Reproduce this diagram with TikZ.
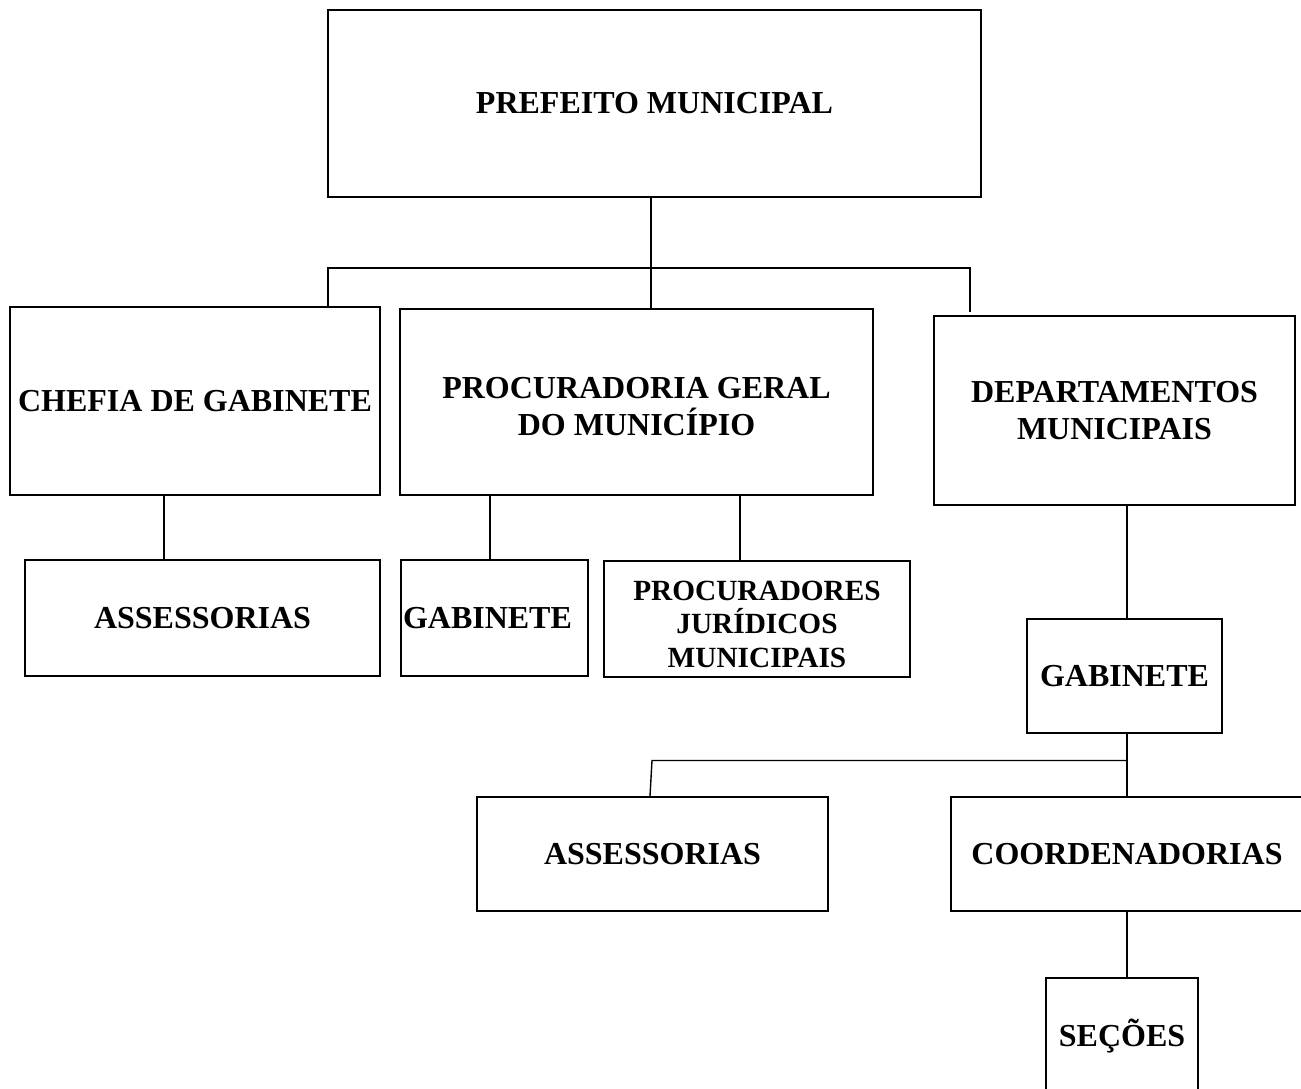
\documentclass[tikz,border=0pt]{standalone}
\usepackage{fontspec}
\setmainfont{Liberation Serif}
\usetikzlibrary{calc}
\tikzset{
  orgbox/.style={draw, line width=1.6pt, inner sep=0pt, align=center,
    font=\bfseries\fontsize{32}{36.8}\selectfont},
  smallbox/.style={orgbox, font=\bfseries\fontsize{29.3}{33.7}\selectfont},
  link/.style={line width=1.4pt}
}
\begin{document}
\begin{tikzpicture}[x=1pt,y=-1pt]
\useasboundingbox (0,0) rectangle (1301,1089);
\clip (0,0) rectangle (1301,1089);
% boxes
\node[orgbox, minimum width=653pt, minimum height=187pt] (pref) at (654.5,103.5) {PREFEITO MUNICIPAL};
\node[orgbox, minimum width=370pt, minimum height=188pt] (chefia) at (195,401) {CHEFIA DE GABINETE};
\node[orgbox, minimum width=473pt, minimum height=186pt] (proc) at (636.5,402) {\rule{0pt}{30pt}PROCURADORIA GERAL\\DO MUNICÍPIO};
\node[orgbox, minimum width=361pt, minimum height=189pt] (dep) at (1114.5,410.5) {DEPARTAMENTOS\\MUNICIPAIS};
\node[orgbox, minimum width=355pt, minimum height=116pt] (assa) at (202.5,618) {ASSESSORIAS};
\node[orgbox, text width=183pt, align=left, inner xsep=2pt, minimum height=116pt] (gaba) at (494.5,618) {GABINETE};
\node[smallbox, minimum width=306pt, minimum height=116pt] (procj) at (757,619) {\rule{0pt}{30pt}PROCURADORES\\JURÍDICOS\\MUNICIPAIS};
\node[orgbox, minimum width=195pt, minimum height=114pt] (gabb) at (1124.5,676) {GABINETE};
\node[orgbox, minimum width=351pt, minimum height=114pt] (assb) at (652.5,854) {ASSESSORIAS};
\node[orgbox, minimum width=352pt, minimum height=114pt] (coord) at (1127,854) {COORDENADORIAS};
\node[orgbox, minimum width=152pt, minimum height=116pt] (sec) at (1122,1036) {SEÇÕES};
% helper coordinates
\coordinate (hm) at (651,268);
\coordinate (hl) at (328,268);
\coordinate (hr) at (970,268);
\coordinate (xa) at (164,0);
\coordinate (xb) at (490,0);
\coordinate (xc) at (740,0);
\coordinate (xd) at (1127,0);
\coordinate (jl) at (652,760.5);
\coordinate (jr) at (1127,760.5);
\coordinate (xe) at (650,0);
% connectors
\draw[link] (hm |- pref.south) -- (hm);
\draw[link] (hl |- chefia.north) -- (hl) -- (hr) -- ($(hr |- dep.north)+(0,-3.5)$);
\draw[link] (hm) -- (hm |- proc.north);
\draw[link] (xa |- chefia.south) -- (xa |- assa.north);
\draw[link] (xb |- proc.south) -- (xb |- gaba.north);
\draw[link] (xc |- proc.south) -- (xc |- procj.north);
\draw[link] (xd |- dep.south) -- (xd |- gabb.north);
\draw[link] (xd |- gabb.south) -- (xd |- coord.north);
\draw[link] (jr) -- (jl) -- (xe |- assb.north);
\draw[link] (xd |- coord.south) -- (xd |- sec.north);
\end{tikzpicture}
\end{document}
